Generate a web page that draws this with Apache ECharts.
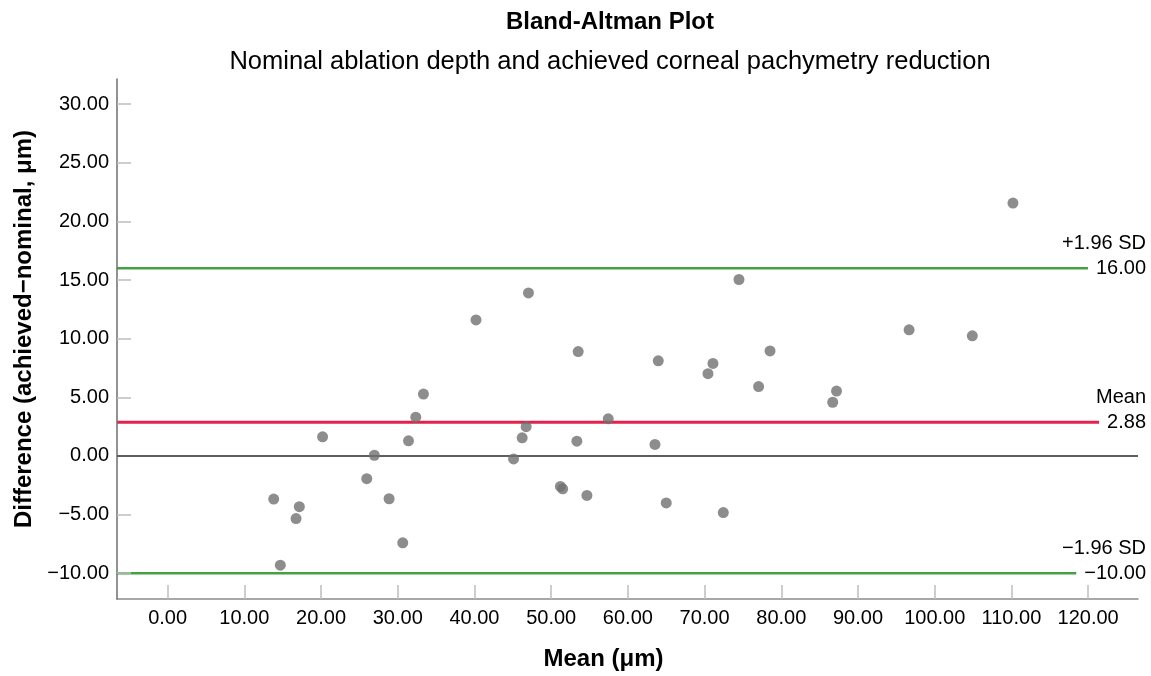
<!DOCTYPE html>
<html>
<head>
<meta charset="utf-8">
<script src="https://cdn.jsdelivr.net/npm/echarts@6/dist/echarts.min.js"></script>
<style>
html,body{margin:0;padding:0;background:#fff;}
#chart{width:1151px;height:676px;}
</style>
</head>
<body>
<div id="chart"></div>
<script>
// ---------- data ----------
const meanValues = [
  40.2, 33.35, 32.35, 31.4, 20.2, 26.95, 25.96, 28.87, 13.83, 17.17, 16.74, 30.65, 14.69,
  47.04, 53.52, 63.96, 74.48, 71.09, 70.44, 78.53, 77.04, 87.2, 86.7,
  57.44, 46.74, 46.22, 53.35, 63.53, 45.1, 51.2, 51.5, 54.66, 65.0, 72.44,
  110.2, 96.66, 104.9
];
const diffValues = [
  11.6, 5.28, 3.31, 1.29, 1.63, 0.06, -1.94, -3.65, -3.68, -4.33, -5.34, -7.41, -9.32,
  13.9, 8.9, 8.11, 15.05, 7.89, 7.02, 8.96, 5.92, 5.53, 4.58,
  3.17, 2.5, 1.55, 1.26, 0.98, -0.25, -2.6, -2.8, -3.37, -4.01, -4.83,
  21.57, 10.76, 10.25
];
const refValues = [16.00, 2.88, -10.00];
const refNames = ['+1.96 SD', 'Mean', '\u22121.96 SD'];
const xTicks = [0, 10, 20, 30, 40, 50, 60, 70, 80, 90, 100, 110, 120];
const yTicks = [-10, -5, 0, 5, 10, 15, 20, 25, 30];
const titleText = 'Bland-Altman Plot';
const subtitleText = 'Nominal ablation depth and achieved corneal pachymetry reduction';
const xName = 'Mean (\u03bcm)';
const yName = 'Difference (achieved\u2212nominal, \u03bcm)';

// ---------- styles / layout ----------
const FONT = '"Liberation Sans", Arial, Helvetica, sans-serif';
const X_MIN = -6.6, X_MAX = 126.5, Y_MIN = -12.2, Y_MAX = 32.15;
const refColors = ['#43a043', '#e3214c', '#43a043'];
const refWidths = [2.5, 3, 2.5];
const fmt = v => (v < 0 ? '\u2212' : '') + Math.abs(v).toFixed(2);

const chart = echarts.init(document.getElementById('chart'), null, {renderer: 'canvas'});

const scatterSeries = {
  type: 'scatter',
  data: meanValues.map((m, i) => [m, diffValues[i]]),
  symbolSize: 11,
  itemStyle: {color: '#707070'},
  z: 6,
  silent: true
};

const baseOption = {
  animation: false,
  backgroundColor: '#ffffff',
  textStyle: {fontFamily: FONT},
  title: [
    {text: titleText, left: 605, top: 5, textAlign: 'center',
     textStyle: {fontFamily: FONT, fontSize: 24, fontWeight: 'bold', color: '#000'}},
    {text: subtitleText, left: 605, top: 44, textAlign: 'center',
     textStyle: {fontFamily: FONT, fontSize: 25.5, fontWeight: 'normal', color: '#000'}}
  ],
  grid: {left: 117, right: 13, top: 79, bottom: 70},
  xAxis: {
    type: 'value', min: X_MIN, max: X_MAX,
    name: xName, nameLocation: 'middle', nameGap: 48,
    nameTextStyle: {fontFamily: FONT, fontSize: 24, fontWeight: 'bold', color: '#000', padding: [0, 48, 0, 0]},
    axisLine: {show: true, onZero: false, lineStyle: {color: '#8c8c8c', width: 1.5}},
    axisTick: {show: true, inside: true, length: 14, customValues: xTicks, lineStyle: {color: '#bdbdbd', width: 1.5}},
    axisLabel: {customValues: xTicks, formatter: fmt, fontFamily: FONT, fontSize: 20, color: '#000', margin: 9},
    splitLine: {show: false}
  },
  yAxis: {
    type: 'value', min: Y_MIN, max: Y_MAX, z: 4,
    name: yName, nameLocation: 'middle', nameGap: 74,
    nameTextStyle: {fontFamily: FONT, fontSize: 24, fontWeight: 'bold', color: '#000', padding: [0, 0, 0, 20]},
    axisLine: {show: true, onZero: false, lineStyle: {color: '#6e6e6e', width: 1.5}},
    axisTick: {show: true, inside: true, length: 14, customValues: yTicks, lineStyle: {color: '#bdbdbd', width: 1.5}},
    axisLabel: {customValues: yTicks, formatter: fmt, fontFamily: FONT, fontSize: 20, color: '#000', margin: 8},
    splitLine: {show: false}
  },
  series: [scatterSeries]
};
chart.setOption(baseOption);

// reference lines and their labels, placed through the chart's own scales
const ctx = document.createElement('canvas').getContext('2d');
ctx.font = '20px ' + FONT;
const rightPx = chart.convertToPixel({xAxisIndex: 0}, X_MAX);
const labelRight = rightPx + 8;

const refSeries = refValues.map((v, i) => {
  const w = ctx.measureText(fmt(v)).width;
  const endX = chart.convertFromPixel({xAxisIndex: 0}, labelRight - w - 8);
  return {
    type: 'line', data: [[X_MIN, v], [endX, v]], symbol: 'none', silent: true, z: 3,
    lineStyle: {color: refColors[i], width: refWidths[i]}
  };
});
// zero line
refSeries.push({
  type: 'line', data: [], symbol: 'none', silent: true, z: 3,
  markLine: {silent: true, symbol: 'none', label: {show: false},
             lineStyle: {color: '#5e5e5e', width: 2, type: 'solid'}, data: [{yAxis: 0}]}
});

const graphics = [];
refValues.forEach((v, i) => {
  const y = chart.convertToPixel({yAxisIndex: 0}, v);
  [[fmt(v), y], [refNames[i], y - 25]].forEach(([t, yy]) => {
    graphics.push({
      type: 'text', x: labelRight, y: yy, silent: true, z: 10,
      style: {text: t, fontFamily: FONT, fontSize: 20, fill: '#000',
              align: 'right', verticalAlign: 'middle', textAlign: 'right', textVerticalAlign: 'middle'}
    });
  });
});

chart.setOption({series: [scatterSeries].concat(refSeries), graphic: graphics});
</script>
</body>
</html>
